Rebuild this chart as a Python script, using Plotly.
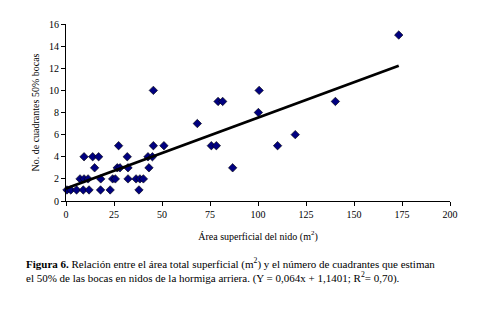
import plotly.graph_objects as go

# Data
area = [0.5, 2.5, 5.5, 9.0, 12.0, 18.0, 23.0, 38.0,
        7.3, 9.4, 11.5, 18.1, 24.3, 25.7, 32.3, 36.5, 38.5, 40.3,
        14.9, 26.7, 28.1, 32.3, 43.2, 86.8,
        9.4, 13.9, 17.0, 31.9, 42.7, 45.0,
        27.4, 45.5, 51.0, 75.7, 78.3, 110.2,
        119.4, 68.4, 100.2,
        79.2, 81.6, 140.3,
        45.5, 100.6, 173.3]
cuadrantes = [1, 1, 1, 1, 1, 1, 1, 1,
              2, 2, 2, 2, 2, 2, 2, 2, 2, 2,
              3, 3, 3, 3, 3, 3,
              4, 4, 4, 4, 4, 4,
              5, 5, 5, 5, 5, 5,
              6, 7, 8,
              9, 9, 9,
              10, 10, 15]
slope = 0.064
intercept = 1.1401
line_x = [0, 173.3]
line_y = [intercept + slope * v for v in line_x]

x_ticks = [0, 25, 50, 75, 100, 125, 150, 175, 200]
y_ticks = [0, 2, 4, 6, 8, 10, 12, 14, 16]

font = "Liberation Serif, Times New Roman, serif"

fig = go.Figure()
fig.add_trace(go.Scatter(x=area, y=cuadrantes, mode="markers",
                         marker=dict(symbol="diamond", size=6.5, color="#000080",
                                     line=dict(color="#000000", width=0.6)),
                         showlegend=False, cliponaxis=False))
fig.add_trace(go.Scatter(x=line_x, y=line_y, mode="lines",
                         line=dict(color="black", width=2.8), showlegend=False))

fig.update_layout(
    width=488, height=311,
    margin=dict(l=58, r=46, t=16, b=118, autoexpand=False),
    paper_bgcolor="white", plot_bgcolor="white",
    font=dict(family=font, size=10, color="black"),
    xaxis=dict(range=[0, 200], tickvals=x_ticks, showgrid=False, zeroline=False,
               showline=True, linecolor="black", linewidth=1, automargin=False,
               ticks="outside", ticklen=4, tickcolor="black",
               tickfont=dict(family=font, size=10),
               title=dict(text="Área superficial del nido (m<sup>2</sup>)",
                          font=dict(family=font, size=10), standoff=13)),
    yaxis=dict(range=[0, 16], tickvals=y_ticks, showgrid=False, zeroline=False,
               showline=True, linecolor="black", linewidth=1, automargin=False,
               ticks="outside", ticklen=4, tickcolor="black",
               tickfont=dict(family=font, size=10),
               title=dict(text="No. de cuadrantes 50% bocas",
                          font=dict(family=font, size=10), standoff=7)),
)

fig.add_annotation(
    xref="paper", yref="paper", x=-0.11, y=-0.30, xanchor="left", yanchor="top",
    align="left", showarrow=False, font=dict(size=11, family=font),
    text=("<b>Figura 6.</b> Relación entre el área total superficial (m<sup>2</sup>) y el número de cuadrantes que estiman"
          "<br>el 50% de las bocas en nidos de la hormiga arriera. (Y = 0,064x + 1,1401; R<sup>2</sup>= 0,70)."))

fig.write_html("out.html")
